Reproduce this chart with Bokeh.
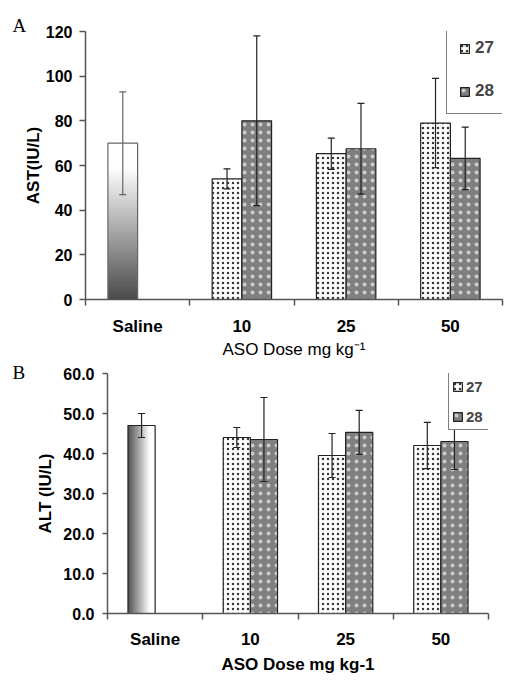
from bokeh.plotting import figure
from bokeh.models import (ColumnDataSource, FixedTicker, Whisker, TeeHead, Legend,
                          LegendItem, NumeralTickFormatter, Range1d, Title)
from bokeh.embed import file_html
from bokeh.resources import INLINE

# ---------------- data ----------------
categories = ["Saline", "10", "25", "50"]
doses = ["10", "25", "50"]
series = ["27", "28"]

ast_saline = 70.0
ast_saline_err = 23.0
ast_27 = [54.0, 65.3, 79.0]
ast_27_err = [4.5, 7.0, 20.0]
ast_28 = [80.0, 67.5, 63.2]
ast_28_err = [38.0, 20.3, 14.0]

alt_saline = 47.0
alt_saline_err = 3.0
alt_27 = [44.0, 39.5, 42.0]
alt_27_err = [2.5, 5.5, 5.8]
alt_28 = [43.5, 45.3, 43.0]
alt_28_err = [10.5, 5.5, 7.0]

ast_ticks = [0, 20, 40, 60, 80, 100, 120]
alt_ticks = [0, 10, 20, 30, 40, 50, 60]

FONT = "Liberation Sans"
W = 0.285  # bar width as fraction of a category


def lerp(c0, c1, t):
    t = max(0.0, min(1.0, t))
    r = [int(round(a + (b - a) * t)) for a, b in zip(c0, c1)]
    return "#%02x%02x%02x" % tuple(r)


def make_panel(letter, ymax, yticks, ytitle, xtitle, xtitle_bold, saline, saline_err,
               v27, e27, v28, e28, frame, mb, vertical_grad, fmt, letter_off, letter_standoff,
               legend_loc, legend_cfg, saline_line, saline_whisk, ytick_out, yl_standoff,
               yt_standoff, xl_standoff, xt_standoff):
    p = figure(frame_width=frame[0], frame_height=frame[1], x_range=Range1d(-0.5, 3.5),
               y_range=Range1d(0, ymax), output_backend="svg", toolbar_location=None,
               min_border_left=mb[0], min_border_right=mb[1], min_border_top=mb[2],
               min_border_bottom=mb[3], background_fill_color="white",
               border_fill_color="white")
    p.xgrid.visible = False
    p.ygrid.visible = False
    p.outline_line_color = None

    # saline bar with gradient fill (stacked slices of the same bar)
    n = 60
    dark = (0x4a, 0x4a, 0x4a)
    white = (0xff, 0xff, 0xff)
    xs = 0 - W / 2
    l, r, b, t, c = [], [], [], [], []
    for k in range(n):
        tt = (k + 0.5) / n
        if vertical_grad:
            l.append(xs - W / 2); r.append(xs + W / 2)
            b.append(saline * k / n); t.append(min(saline, saline * (k + 2) / n))
            c.append(lerp(dark, white, tt / 0.85))
        else:
            l.append(xs - W / 2 + W * k / n); r.append(xs - W / 2 + W * min(n, k + 2) / n)
            b.append(0); t.append(saline)
            c.append(lerp(dark, white, tt / 0.8))
    p.quad(left=l, right=r, bottom=b, top=t, fill_color=c, line_color=None)
    ssrc = ColumnDataSource(dict(x=[xs], top=[saline], upper=[saline + saline_err],
                                 lower=[saline - saline_err]))
    p.vbar(x="x", top="top", width=W, bottom=0, fill_color=None, line_color=saline_line,
           line_width=1.2, source=ssrc)

    x27 = [i + 1 - W / 2 for i in range(len(doses))]
    x28 = [i + 1 + W / 2 for i in range(len(doses))]
    s27 = ColumnDataSource(dict(x=x27, top=v27, upper=[a + e for a, e in zip(v27, e27)],
                                lower=[a - e for a, e in zip(v27, e27)]))
    s28 = ColumnDataSource(dict(x=x28, top=v28, upper=[a + e for a, e in zip(v28, e28)],
                                lower=[a - e for a, e in zip(v28, e28)]))
    r27 = p.vbar(x="x", top="top", width=W, bottom=0, fill_color="white", line_color="#222222",
                 line_width=1.2, hatch_pattern="dot", hatch_color="#222222", hatch_scale=5,
                 hatch_weight=1, hatch_alpha=0.9, source=s27)
    r28 = p.vbar(x="x", top="top", width=W, bottom=0, fill_color="#7f7f7f", line_color="#222222",
                 line_width=1.2, hatch_pattern="dot", hatch_color="#ffffff", hatch_scale=8,
                 hatch_weight=1, hatch_alpha=0.6, source=s28)

    for src, col in ((ssrc, saline_whisk), (s27, "#222222"), (s28, "#222222")):
        p.add_layout(Whisker(source=src, base="x", upper="upper", lower="lower",
                             line_color=col, line_width=1.2, level="annotation",
                             upper_head=TeeHead(size=7, line_color=col, line_width=1.2),
                             lower_head=TeeHead(size=7, line_color=col, line_width=1.2)))

    # x axis: labels at category centres, tick marks between categories
    xa = p.xaxis[0]
    xa.ticker = FixedTicker(ticks=[0, 1, 2, 3], minor_ticks=[-0.5, 0.5, 1.5, 2.5, 3.5])
    xa.major_label_overrides = {i: c for i, c in enumerate(categories)}
    xa.major_tick_line_color = None
    xa.major_tick_out = 0
    xa.major_tick_in = 0
    xa.minor_tick_out = 6
    xa.minor_tick_in = 0
    xa.minor_tick_line_color = "#555555"
    xa.minor_tick_line_width = 1.5
    xa.axis_line_color = "#555555"
    xa.axis_line_width = 1.5
    xa.major_label_text_font = FONT
    xa.major_label_text_font_style = "bold"
    xa.major_label_text_font_size = "17px"
    xa.major_label_text_color = "black"
    xa.major_label_standoff = xl_standoff
    xa.axis_label = xtitle
    xa.axis_label_text_font = FONT
    xa.axis_label_text_font_style = "bold" if xtitle_bold else "normal"
    xa.axis_label_text_font_size = "17px"
    xa.axis_label_text_color = "black"
    xa.axis_label_standoff = xt_standoff

    ya = p.yaxis[0]
    ya.ticker = FixedTicker(ticks=yticks)
    ya.minor_tick_line_color = None
    ya.major_tick_out = ytick_out
    ya.major_tick_in = 0
    ya.major_tick_line_color = "#555555"
    ya.major_tick_line_width = 1.5
    ya.axis_line_color = "#555555"
    ya.axis_line_width = 1.5
    ya.formatter = NumeralTickFormatter(format=fmt)
    ya.major_label_text_font = FONT
    ya.major_label_text_font_style = "bold"
    ya.major_label_text_font_size = "16px"
    ya.major_label_text_color = "black"
    ya.major_label_standoff = yl_standoff
    ya.axis_label = ytitle
    ya.axis_label_text_font = FONT
    ya.axis_label_text_font_style = "bold"
    ya.axis_label_text_font_size = "17px"
    ya.axis_label_text_color = "black"
    ya.axis_label_standoff = yt_standoff

    p.title = Title(text=letter, align="left", offset=letter_off, standoff=letter_standoff,
                    vertical_align="bottom", text_font="Liberation Serif",
                    text_font_size="19px", text_font_style="normal", text_color="black")

    legend = Legend(items=[LegendItem(label=series[0], renderers=[r27]),
                           LegendItem(label=series[1], renderers=[r28])],
                    location=legend_loc, border_line_color="black", border_line_width=1.5,
                    background_fill_color="white", background_fill_alpha=1.0,
                    label_text_font=FONT, label_text_font_style="bold",
                    label_text_font_size=legend_cfg["size"], glyph_width=11, glyph_height=11,
                    label_height=legend_cfg["lh"], spacing=legend_cfg["spacing"],
                    padding=legend_cfg["padding"], margin=0,
                    label_standoff=legend_cfg["standoff"])
    p.add_layout(legend)
    return p


pA = make_panel("A", 120, ast_ticks, "AST(IU/L)", "ASO Dose mg kg\u207b\u00b9", False,
                ast_saline, ast_saline_err, ast_27, ast_27_err, ast_28, ast_28_err,
                frame=(417, 268), mb=(85, 4, 31, 57), vertical_grad=True, fmt="0",
                letter_off=-73, letter_standoff=-9, legend_loc=(361, 185),
                legend_cfg=dict(size="17px", lh=20, spacing=23, padding=12, standoff=5),
                saline_line="#666666", saline_whisk="#666666", ytick_out=6, yl_standoff=7,
                yt_standoff=0, xl_standoff=11, xt_standoff=1)

pB = make_panel("B", 60, alt_ticks, "ALT (IU/L)", "ASO Dose mg kg-1", True,
                alt_saline, alt_saline_err, alt_27, alt_27_err, alt_28, alt_28_err,
                frame=(381, 240), mb=(107, 2, 12, 58), vertical_grad=False, fmt="0.0",
                letter_off=-95, letter_standoff=-19, legend_loc=(341, 183),
                legend_cfg=dict(size="15px", lh=20, spacing=10, padding=3, standoff=3),
                saline_line="#222222", saline_whisk="#222222", ytick_out=5, yl_standoff=8,
                yt_standoff=5, xl_standoff=10, xt_standoff=3)

open("out.html", "w").write(file_html([pA, pB], INLINE))
